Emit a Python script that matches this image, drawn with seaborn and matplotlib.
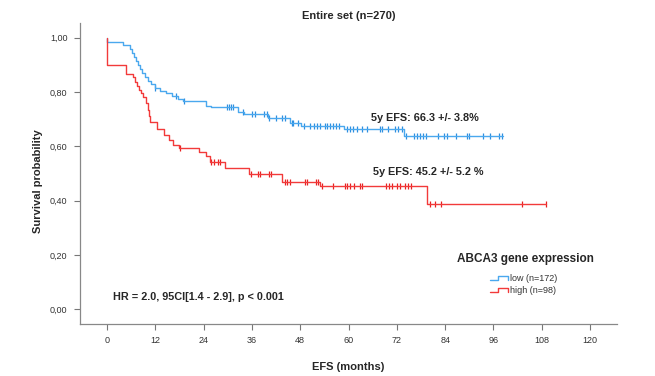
import numpy as np
import pandas as pd
import matplotlib
matplotlib.use("Agg")
import matplotlib.pyplot as plt
from matplotlib.lines import Line2D
from matplotlib.legend_handler import HandlerBase
from matplotlib.ticker import FuncFormatter
import seaborn as sns

# Kaplan-Meier step points (months, survival) per expression group
low_times = [0, 4.1, 5.7, 6.2, 6.7, 7.2, 7.7, 8.2, 8.7, 9.4, 10.2, 10.9, 11.9, 13.2,
             14.7, 16.1, 17.6, 18.9, 24.6, 25.8, 32.5, 34.0, 40.0, 45.5, 48.2, 58.9,
             73.8, 98.3]
low_surv = [0.983, 0.973, 0.960, 0.945, 0.930, 0.915, 0.900, 0.885, 0.870, 0.855,
            0.840, 0.828, 0.815, 0.805, 0.795, 0.785, 0.776, 0.766, 0.749, 0.744,
            0.725, 0.718, 0.703, 0.687, 0.676, 0.663, 0.639, 0.639]
low_censored = [11.9, 17.1, 19.2, 29.7, 30.2, 30.8, 31.3, 33.7, 36.1, 36.8, 39.0,
                39.7, 40.3, 42.0, 43.6, 44.2, 45.9, 46.3, 47.5, 48.9, 50.4, 51.3,
                52.1, 52.9, 54.2, 54.6, 55.4, 56.2, 57.0, 57.7, 59.6, 60.4, 61.2,
                62.0, 63.3, 64.5, 67.7, 68.2, 69.9, 71.6, 72.2, 73.2, 74.3, 76.3,
                76.9, 77.8, 78.6, 79.3, 82.3, 83.6, 84.4, 86.7, 89.4, 89.9, 93.5,
                95.2, 97.4, 98.1]

high_times = [0, 4.7, 6.5, 7.0, 7.5, 8.0, 8.4, 8.9, 9.7, 10.2, 10.4, 10.7, 12.4, 14.2,
              15.4, 16.4, 17.9, 22.9, 24.6, 25.6, 29.3, 35.3, 43.5, 52.9, 79.4, 109.1]
high_surv = [0.900, 0.866, 0.856, 0.838, 0.822, 0.807, 0.795, 0.783, 0.758, 0.734,
             0.710, 0.690, 0.663, 0.642, 0.623, 0.605, 0.593, 0.580, 0.564, 0.541,
             0.519, 0.497, 0.468, 0.455, 0.389, 0.389]
high_censored = [18.1, 25.8, 26.6, 27.6, 28.1, 35.8, 37.5, 38.0, 40.2, 40.7, 44.2,
                 44.7, 45.5, 49.2, 49.7, 51.9, 52.4, 53.4, 56.1, 59.1, 59.6, 60.4,
                 61.4, 62.9, 63.4, 69.3, 70.1, 70.8, 72.0, 72.8, 74.0, 74.8, 75.5,
                 80.2, 81.6, 82.9, 103.2, 109.1]

groups = ["low (n=172)", "high (n=98)"]
colors = {"low (n=172)": "#4aa8ee", "high (n=98)": "#f23a3a"}
mark_colors = {"low (n=172)": "#2c8fe0", "high (n=98)": "#e82020"}

xticks = [0, 12, 24, 36, 48, 60, 72, 84, 96, 108, 120]
yticks = [0.0, 0.2, 0.4, 0.6, 0.8, 1.0]


def curve_frame(times, surv, label):
    # prepend the starting point at 1.0 so the drop at t=0 is drawn
    t = [0.0] + list(times)
    s = [1.0] + list(surv)
    return pd.DataFrame({"months": t, "survival": s, "group": label})


def censor_frame(times, surv, ctimes, label):
    t = np.asarray(times)
    s = np.asarray(surv)
    idx = np.searchsorted(t, np.asarray(ctimes), side="right") - 1
    return pd.DataFrame({"months": ctimes, "survival": s[idx], "group": label})


class StepHandler(HandlerBase):
    """Legend key drawn as a small step, like a survival curve."""

    def create_artists(self, legend, orig_handle, xdescent, ydescent, width,
                       height, fontsize, trans):
        x0, x1 = -xdescent, -xdescent + width
        xm = x0 + 0.45 * width
        ylo = -ydescent + 0.2 * height
        yhi = -ydescent + 0.85 * height
        line = Line2D([x0, xm, xm, x1, x1], [ylo, ylo, yhi, yhi, ylo],
                      color=orig_handle.get_color(), lw=1.0, transform=trans)
        return [line]


curves = pd.concat([curve_frame(low_times, low_surv, groups[0]),
                    curve_frame(high_times, high_surv, groups[1])])
marks = pd.concat([censor_frame(low_times, low_surv, low_censored, groups[0]),
                   censor_frame(high_times, high_surv, high_censored, groups[1])])

sns.set_theme(style="white")
plt.rcParams["font.family"] = ["Liberation Sans", "DejaVu Sans"]

fig = plt.figure(figsize=(6.55, 3.76), dpi=100)
ax = fig.add_axes([0.1221, 0.1383, 0.8194, 0.8005])

for g in groups:
    d = curves[curves["group"] == g]
    sns.lineplot(data=d, x="months", y="survival", ax=ax, color=colors[g],
                 drawstyle="steps-post", estimator=None, sort=False, lw=1.0,
                 legend=False)
    m = marks[marks["group"] == g]
    sns.scatterplot(data=m, x="months", y="survival", ax=ax, marker="|",
                    color=mark_colors[g], s=20, linewidth=0.9, legend=False)

ax.set_xlim(-6.7, 126.6)
ax.set_ylim(-0.054, 1.054)
ax.set_xticks(xticks)
ax.set_yticks(yticks)
ax.yaxis.set_major_formatter(FuncFormatter(lambda v, p: f"{v:.2f}".replace(".", ",")))
ax.tick_params(axis="both", direction="out", length=4, width=0.8, color="#777777",
               labelsize=6.5, labelcolor="#333333", pad=5, bottom=True, left=True)
for side in ["top", "right"]:
    ax.spines[side].set_visible(False)
for side in ["left", "bottom"]:
    ax.spines[side].set_color("#888888")
    ax.spines[side].set_linewidth(0.9)

ax.set_xlabel("EFS (months)", fontsize=8, fontweight="bold", labelpad=12)
ax.set_ylabel("Survival probability", fontsize=8, fontweight="bold")
ax.yaxis.set_label_coords(-0.069, 0.475)
ax.set_title("Entire set (n=270)", fontsize=8, fontweight="bold", pad=3)

ax.text(78.9, 0.706, "5y EFS: 66.3 +/- 3.8%", fontsize=7.8, fontweight="bold",
        ha="center", va="center")
ax.text(79.7, 0.505, "5y EFS: 45.2 +/- 5.2 %", fontsize=7.8, fontweight="bold",
        ha="center", va="center")
ax.text(1.5, 0.046, "HR = 2.0, 95CI[1.4 - 2.9], p < 0.001", fontsize=7.8,
        fontweight="bold", ha="left", va="center")

ax.text(0.8296, 0.216, "ABCA3 gene expression", transform=ax.transAxes,
        fontsize=8.5, fontweight="bold", ha="center", va="center")
handles = [Line2D([0], [0], color=colors[g], lw=1.0) for g in groups]
leg = ax.legend(handles, groups, frameon=False, loc="upper left",
                bbox_to_anchor=(0.764, 0.165), fontsize=6.5,
                handlelength=2.0, handletextpad=0.25, labelspacing=0.3,
                borderpad=0, borderaxespad=0,
                handler_map={Line2D: StepHandler()})
for t in leg.get_texts():
    t.set_color("#333333")

fig.savefig("out.png", dpi=100)
